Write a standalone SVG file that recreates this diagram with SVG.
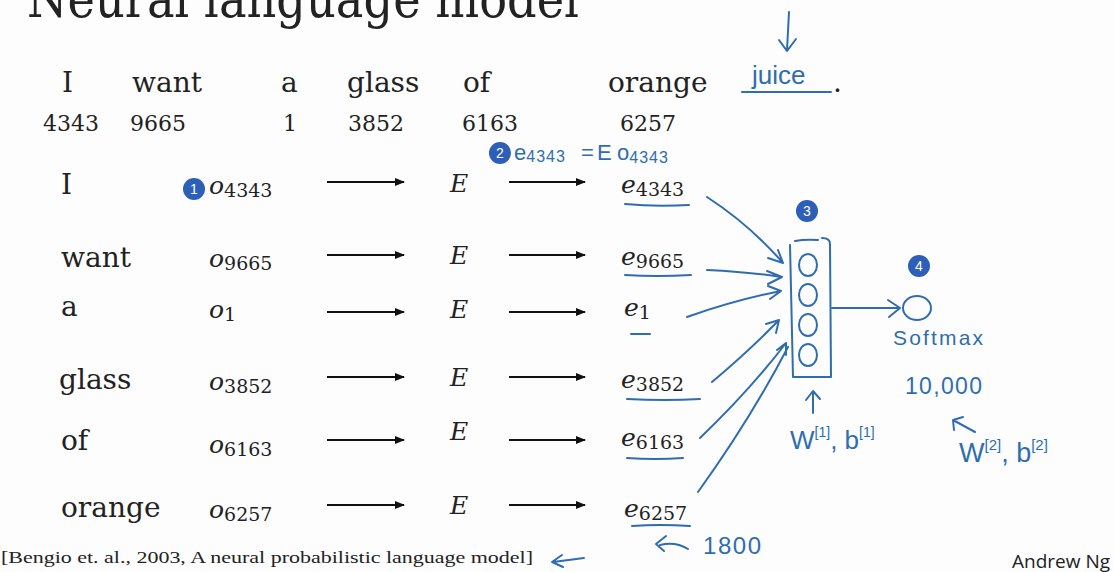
<svg xmlns="http://www.w3.org/2000/svg" width="1114" height="572" viewBox="0 0 1114 572">
<defs>
<marker id="ah" viewBox="0 0 10 10" refX="9" refY="5" markerWidth="10" markerHeight="10" markerUnits="userSpaceOnUse" orient="auto">
<path d="M0,1 L10,5 L0,9 Z" fill="#111"/>
</marker>
<style>
.w{font-family:"DejaVu Serif","Liberation Serif",serif;font-size:28px;fill:#222}
.n{font-family:"DejaVu Serif","Liberation Serif",serif;font-size:22px;fill:#222}
.m{font-family:"DejaVu Serif","Liberation Serif",serif;font-style:italic;font-size:25px;fill:#222}
.sub{font-family:"DejaVu Serif","Liberation Serif",serif;font-style:normal;font-size:19px}
.ar{stroke:#111;stroke-width:2;fill:none}
.hw{font-family:"Liberation Sans","DejaVu Sans",sans-serif;fill:#2f6db0}
.bl{stroke:#2f6db0;stroke-width:2;fill:none;stroke-linecap:round;stroke-linejoin:round}
.badge{fill:#2d5fb8}
.bt{font-family:"Liberation Sans","DejaVu Sans",sans-serif;font-size:14px;fill:#fff;text-anchor:middle}
</style>
</defs>
<rect width="1114" height="572" fill="#fdfdfd"/>

<g id="title"><text x="27" y="17" font-family="DejaVu Serif, Liberation Serif, serif" font-size="52" fill="#222" textLength="552" lengthAdjust="spacingAndGlyphs">Neural language model</text></g>

<g id="sentence">
<text class="w" x="62" y="92">I</text>
<text class="w" x="132" y="92">want</text>
<text class="w" x="281" y="92">a</text>
<text class="w" x="347" y="92">glass</text>
<text class="w" x="463" y="92">of</text>
<text class="w" x="608" y="92">orange</text>
<text class="w" x="833" y="92">.</text>
<text class="n" x="43" y="131">4343</text>
<text class="n" x="130" y="131">9665</text>
<text class="n" x="283" y="131">1</text>
<text class="n" x="348" y="131">3852</text>
<text class="n" x="462" y="131">6163</text>
<text class="n" x="620" y="131">6257</text>
</g>

<g id="juice">
<text class="hw" x="752" y="84" font-size="26">juice</text>
<path class="bl" d="M742,92 L831,92"/>
<path class="bl" d="M789,12 L787,50 M779,40 L787,51 L796,39"/>
</g>

<g id="badge2">
<circle class="badge" cx="500" cy="153" r="11"/><text class="bt" x="500" y="158">2</text>
<text class="hw" x="514" y="160" font-size="22">e<tspan font-size="16" dy="2" letter-spacing="1">4343</tspan></text>
<text class="hw" x="581" y="160" font-size="22">=</text>
<text class="hw" x="597" y="160" font-size="22">E</text>
<text class="hw" x="617" y="160" font-size="22">o<tspan font-size="16" dy="3" letter-spacing="1">4343</tspan></text>
</g>

<g id="badge1"><circle class="badge" cx="194" cy="189" r="11"/><text class="bt" x="194" y="194">1</text></g>

<g id="words">
<text class="w" x="61" y="194">I</text>
<text class="w" x="61" y="267">want</text>
<text class="w" x="61" y="316">a</text>
<text class="w" x="59" y="389">glass</text>
<text class="w" x="61" y="450">of</text>
<text class="w" x="61" y="517">orange</text>
</g>

<g id="onehot">
<text class="m" x="209" y="194">o<tspan class="sub" dy="3">4343</tspan></text>
<text class="m" x="209" y="267">o<tspan class="sub" dy="3">9665</tspan></text>
<text class="m" x="209" y="318">o<tspan class="sub" dy="3">1</tspan></text>
<text class="m" x="209" y="390">o<tspan class="sub" dy="3">3852</tspan></text>
<text class="m" x="209" y="453">o<tspan class="sub" dy="3">6163</tspan></text>
<text class="m" x="209" y="518">o<tspan class="sub" dy="3">6257</tspan></text>
</g>

<g id="Ecol">
<text class="m" x="450" y="192">E</text>
<text class="m" x="450" y="264">E</text>
<text class="m" x="450" y="318">E</text>
<text class="m" x="450" y="386">E</text>
<text class="m" x="450" y="440">E</text>
<text class="m" x="450" y="514">E</text>
</g>

<g id="ecol">
<text class="m" x="621" y="193">e<tspan class="sub" dy="3">4343</tspan></text>
<text class="m" x="621" y="265">e<tspan class="sub" dy="3">9665</tspan></text>
<text class="m" x="624" y="316">e<tspan class="sub" dy="3">1</tspan></text>
<text class="m" x="621" y="388">e<tspan class="sub" dy="3">3852</tspan></text>
<text class="m" x="621" y="446">e<tspan class="sub" dy="3">6163</tspan></text>
<text class="m" x="624" y="517">e<tspan class="sub" dy="3">6257</tspan></text>
<path class="bl" d="M625,204 Q655,207 689,205"/>
<path class="bl" d="M625,275 Q657,277 691,275"/>
<path class="bl" d="M631,334 L650,334"/>
<path class="bl" d="M627,399 Q665,401 700,399"/>
<path class="bl" d="M627,458 Q655,460 683,458"/>
<path class="bl" d="M632,526 Q660,524 690,526"/>
</g>

<g id="connectors">
<path class="ar" marker-end="url(#ah)" d="M327,182 L404,182"/>
<path class="ar" marker-end="url(#ah)" d="M509,182 L585,182"/>
<path class="ar" marker-end="url(#ah)" d="M327,255 L404,255"/>
<path class="ar" marker-end="url(#ah)" d="M509,255 L585,255"/>
<path class="ar" marker-end="url(#ah)" d="M327,312 L404,312"/>
<path class="ar" marker-end="url(#ah)" d="M509,312 L585,312"/>
<path class="ar" marker-end="url(#ah)" d="M327,377 L404,377"/>
<path class="ar" marker-end="url(#ah)" d="M509,377 L585,377"/>
<path class="ar" marker-end="url(#ah)" d="M327,440 L404,440"/>
<path class="ar" marker-end="url(#ah)" d="M509,440 L585,440"/>
<path class="ar" marker-end="url(#ah)" d="M327,505 L404,505"/>
<path class="ar" marker-end="url(#ah)" d="M509,505 L585,505"/>
<path class="bl" d="M707,197 Q750,225 783,263 M768,258 L783,263 L778,250"/>
<path class="bl" d="M707,270 Q750,272 781,277 M767,271 L782,277 L768,284"/>
<path class="bl" d="M687,317 Q735,300 781,291 M768,286 L781,291 L770,299"/>
<path class="bl" d="M712,382 Q750,350 779,320 M766,324 L779,320 L776,333"/>
<path class="bl" d="M700,438 Q750,390 786,343 M777,350 L786,343 L786,355"/>
<path class="bl" d="M698,492 Q750,420 788,347"/>
<path class="bl" d="M832,308 L900,308 M888,300 L900,308 L889,317"/>
<path class="bl" d="M813,413 L813,392 M806,400 L813,391 L820,399"/>
<path class="bl" d="M975,432 L953,420 M954,430 L953,420 L963,417"/>
<path class="bl" d="M688,549 Q675,541 660,545 M666,536 L656,544 L664,551"/>
<path class="bl" d="M584,558 L553,562 M562,555 L552,562 L563,567"/>
</g>

<g id="hidden">
<path class="bl" d="M795,241 Q805,239 818,240 M822,238 Q830,238 830,244 L831,377 L793,377 L790,245"/>
<ellipse class="bl" cx="808" cy="265" rx="9" ry="11"/>
<ellipse class="bl" cx="808" cy="295" rx="9" ry="11"/>
<ellipse class="bl" cx="808" cy="325" rx="9" ry="11"/>
<ellipse class="bl" cx="808" cy="355" rx="9" ry="11"/>
<circle class="badge" cx="807" cy="211" r="11"/><text class="bt" x="807" y="216">3</text>
<text class="hw" x="790" y="449" font-size="26">W<tspan font-size="14" dy="-12">[1]</tspan><tspan dy="12">, b</tspan><tspan font-size="14" dy="-12">[1]</tspan></text>
</g>

<g id="output">
<ellipse class="bl" cx="917" cy="308" rx="14" ry="12"/>
<circle class="badge" cx="919" cy="266" r="11"/><text class="bt" x="919" y="271">4</text>
<text class="hw" x="893" y="345" font-size="21" textLength="90">Softmax</text>
<text class="hw" x="905" y="394" font-size="23" textLength="77">10,000</text>
<text class="hw" x="959" y="462" font-size="27">W<tspan font-size="15" dy="-12">[2]</tspan><tspan dy="12">, b</tspan><tspan font-size="15" dy="-12">[2]</tspan></text>
</g>

<g id="dims"><text class="hw" x="703" y="554" font-size="24" textLength="58">1800</text></g>

<g id="footer">
<text x="1" y="563" font-family="Liberation Serif, serif" font-size="16" fill="#222" textLength="532" lengthAdjust="spacingAndGlyphs">[Bengio et. al., 2003, A neural probabilistic language model]</text>
<text x="1012" y="568" font-family="Open Sans, Liberation Sans, sans-serif" font-size="19" fill="#222">Andrew Ng</text>
</g>
</svg>
